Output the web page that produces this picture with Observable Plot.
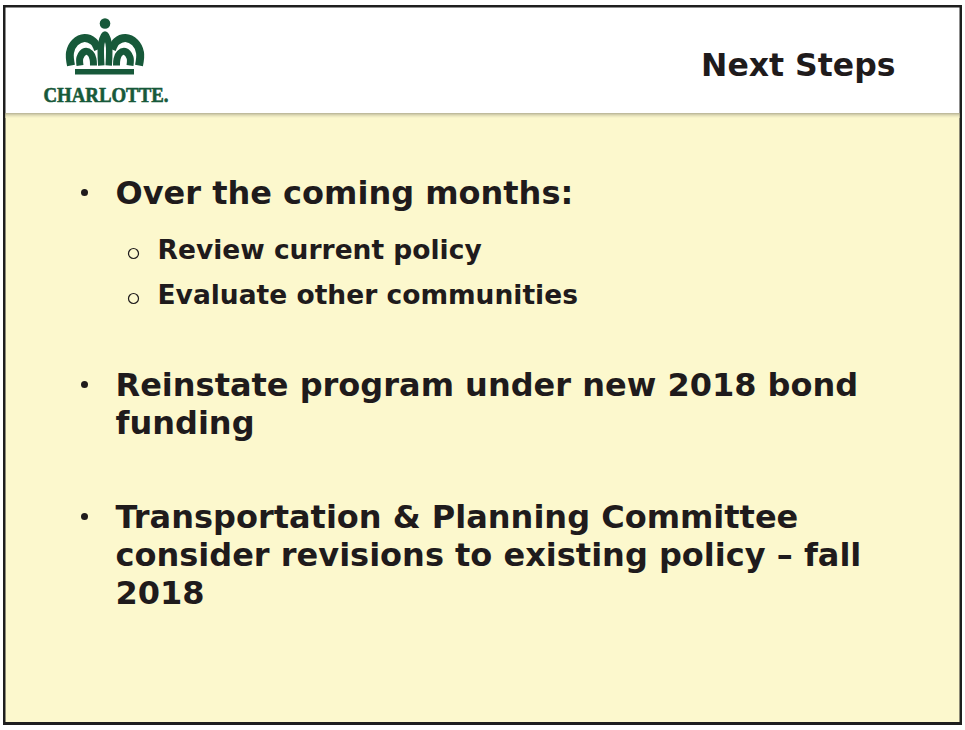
<!DOCTYPE html>
<html>
<head>
<meta charset="utf-8">
<script src="https://cdn.jsdelivr.net/npm/d3@7"></script>
<script src="https://cdn.jsdelivr.net/npm/@observablehq/plot@0.6"></script>
<style>
  html, body { margin: 0; padding: 0; background: #ffffff; }
  #chart svg { display: block; }
</style>
</head>
<body>
<div id="chart"></div>
<script>
// ---- content ----
const title = "Next Steps";
const logoText = "CHARLOTTE.";
const mainBullets = [
  "Over the coming months:",
  "Reinstate program under new 2018 bond\nfunding",
  "Transportation & Planning Committee\nconsider revisions to existing policy – fall\n2018"
];
const subBullets = [
  "Review current policy",
  "Evaluate other communities"
];

// ---- layout (page coordinates) ----
const W = 965, H = 730;
const ink = "#1f1b1c";
const green = "#17593a";
const yellow = "#fcf8cd";
const mainBaselines = [203, 395, 527];
const subBaselines = [258, 303];
const lineStep = 38;

const mainLines = mainBullets.flatMap((t, i) =>
  t.split("\n").map((s, j) => ({text: s, x: 115, y: mainBaselines[i] + lineStep * j})));
const mainDots = mainBaselines.map(b => ({x: 84, y: b - 11}));
const subLines = subBullets.map((t, i) => ({text: t, x: 157, y: subBaselines[i]}));
const subRings = subBaselines.map(b => ({x: 133, y: b - 5}));

const shadow = ["#bfbb9c", "#d2ceab", "#e2deb8", "#eeeac2", "#f7f3c9"].map((c, i) => ({y1: 113 + i, y2: 114 + i, c}));

// crown strokes (left half, mirrored around the centre)
const cx = 104.5;
const leftStrokes = [
  {z: "outer", w: 8, pts: [[70.5, 65], [69.5, 52], [74.5, 42], [84, 37.5], [93, 41], [97.5, 49]]},
  {z: "inner", w: 7, pts: [[79.5, 65], [79.5, 57], [84.5, 51], [90, 53], [92.5, 58.5], [93, 65]]}
];
const crown = [
  ...leftStrokes.flatMap(s => s.pts.map(([x, y]) => ({z: "L" + s.z, w: s.w, x, y}))),
  ...leftStrokes.flatMap(s => s.pts.map(([x, y]) => ({z: "R" + s.z, w: s.w, x: 2 * cx - x, y}))),
  ...[[100.8, 65], [100.8, 43], [104.5, 34], [108.2, 43], [108.2, 65]].map(([x, y]) => ({z: "C", w: 6.5, x, y}))
];
const widths = [...new Set(crown.map(d => d.w))];

const chart = Plot.plot({
  width: W, height: H,
  margin: 0,
  x: {domain: [0, W], axis: null},
  y: {domain: [0, H], reverse: true, axis: null},
  style: {background: "transparent", fontFamily: "Verdana, 'DejaVu Sans', sans-serif"},
  marks: [
    // frame & panels
    Plot.rect([{}], {x1: 3, x2: 962, y1: 5, y2: 725, fill: "#1e1e1e"}),
    Plot.rect([{}], {x1: 5.5, x2: 959.5, y1: 7.5, y2: 113, fill: "#ffffff"}),
    Plot.rect([{}], {x1: 5.5, x2: 959.5, y1: 113, y2: 722, fill: yellow}),
    Plot.rect(shadow, {x1: 5.5, x2: 959.5, y1: "y1", y2: "y2", fill: "c"}),
    // logo
    Plot.dot([{}], {x: 104.5, y: 23, r: 5.3, fill: green}),
    ...widths.map(w => Plot.line(crown.filter(d => d.w === w), {x: "x", y: "y", z: "z", stroke: green, strokeWidth: w, curve: "catmull-rom", strokeLinecap: "butt"})),
    Plot.rect([{}], {x1: 75, x2: 134, y1: 69, y2: 74.5, fill: green}),
    Plot.text([logoText], {x: 43, y: 101, text: d => d, textAnchor: "start", lineAnchor: "bottom",
      fontFamily: "'Liberation Serif', 'Times New Roman', serif", fontWeight: "bold", fontSize: 20.5, fill: green,
      stroke: green, strokeWidth: 0.6}),
    // title
    Plot.text([title], {x: 895, y: 75, text: d => d, textAnchor: "end", lineAnchor: "bottom",
      fontWeight: "bold", fontSize: 31.5, fill: ink}),
    // bullets
    Plot.dot(mainDots, {x: "x", y: "y", r: 3.5, fill: ink}),
    Plot.text(mainLines, {x: "x", y: "y", text: "text", textAnchor: "start", lineAnchor: "bottom",
      fontWeight: "bold", fontSize: 32, fill: ink}),
    Plot.dot(subRings, {x: "x", y: "y", r: 5, stroke: ink, strokeWidth: 1.2, fill: "none"}),
    Plot.text(subLines, {x: "x", y: "y", text: "text", textAnchor: "start", lineAnchor: "bottom",
      fontWeight: "bold", fontSize: 26.5, fill: ink})
  ]
});
// condense the logo word mark to its width in the original
d3.select(chart).selectAll("text")
  .filter(function () { return this.textContent === logoText; })
  .attr("textLength", 125).attr("lengthAdjust", "spacingAndGlyphs");
document.getElementById("chart").append(chart);
</script>
</body>
</html>
